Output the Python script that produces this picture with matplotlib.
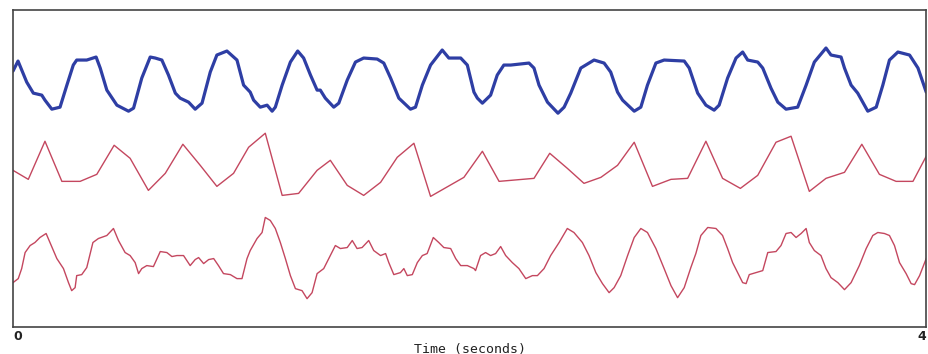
# -*- coding: utf-8 -*-
"""
Three stacked traces over 4 seconds: a noisy periodic signal (blue)
and two derived red traces below it.
"""

import numpy as np
import matplotlib.pyplot as plt

# Top trace (blue)
t_top = [0.000, 0.022, 0.060, 0.089, 0.126, 0.140, 0.170, 0.206, 0.236, 0.264,
         0.279, 0.323, 0.364, 0.382, 0.411, 0.455, 0.506, 0.528, 0.564, 0.601,
         0.623, 0.652, 0.681, 0.711, 0.732, 0.769, 0.798, 0.828, 0.864, 0.893,
         0.937, 0.981, 1.010, 1.039, 1.054, 1.083, 1.113, 1.135, 1.149, 1.179,
         1.215, 1.247, 1.273, 1.303, 1.332, 1.346, 1.368, 1.405, 1.427, 1.464,
         1.500, 1.536, 1.595, 1.624, 1.654, 1.690, 1.741, 1.763, 1.793, 1.829,
         1.880, 1.909, 1.961, 1.990, 2.019, 2.034, 2.056, 2.092, 2.121, 2.150,
         2.180, 2.260, 2.282, 2.304, 2.341, 2.387, 2.414, 2.443, 2.487, 2.545,
         2.589, 2.618, 2.648, 2.670, 2.721, 2.750, 2.779, 2.816, 2.852, 2.940,
         2.962, 2.999, 3.035, 3.071, 3.093, 3.130, 3.167, 3.196, 3.218, 3.262,
         3.284, 3.320, 3.350, 3.386, 3.437, 3.474, 3.510, 3.561, 3.583, 3.627,
         3.642, 3.671, 3.700, 3.722, 3.744, 3.781, 3.810, 3.839, 3.876, 3.927,
         3.964, 4.000]
y_top = [9, 19, -2, -13, -15, -20, -29, -27, -5, 15,
         20, 20, 23, 12, -10, -25, -31, -28, 2, 23,
         22, 20, 5, -13, -18, -22, -29, -23, 8, 25,
         29, 20, -5, -12, -20, -27, -25, -31, -27, -5,
         18, 29, 22, 5, -10, -10, -18, -27, -23, 0,
         18, 22, 21, 17, 2, -18, -29, -27, -5, 15,
         30, 22, 22, 15, -12, -18, -23, -15, 5, 15,
         15, 17, 12, -5, -22, -33, -27, -13, 12, 20,
         17, 8, -12, -20, -31, -27, -5, 17, 20, 19,
         12, -13, -25, -30, -25, 2, 22, 28, 20, 18,
         12, -8, -22, -29, -27, -5, 18, 32, 25, 23,
         12, -5, -13, -22, -31, -27, -5, 20, 28, 25,
         12, -12]

# Middle trace (red, piecewise linear)
t_mid = [0.000, 0.067, 0.140, 0.214, 0.294, 0.367, 0.443, 0.513, 0.593, 0.667,
         0.744, 0.820, 0.893, 0.966, 1.032, 1.105, 1.179, 1.251, 1.332, 1.390,
         1.464, 1.536, 1.610, 1.683, 1.756, 1.829, 1.975, 2.056, 2.129, 2.282,
         2.351, 2.428, 2.501, 2.575, 2.648, 2.721, 2.801, 2.882, 2.955, 3.035,
         3.108, 3.186, 3.262, 3.342, 3.408, 3.488, 3.561, 3.642, 3.718, 3.795,
         3.868, 3.942, 4.000]
y_mid = [-5, -14, 24, -16, -16, -9, 20, 7, -25, -8,
         21, 0, -21, -8, 18, 32, -30, -28, -5, 5,
         -20, -30, -17, 8, 22, -31, -12, 14, -16, -13,
         12, -3, -18, -12, 0, 23, -21, -14, -13, 24,
         -13, -23, -10, 23, 29, -26, -13, -7, 21, -9,
         -16, -16, 9]

# Bottom trace (red)
t_bot = [0.000, 0.023, 0.038, 0.053, 0.075, 0.096, 0.118, 0.145, 0.162, 0.192,
         0.221, 0.243, 0.257, 0.272, 0.279, 0.301, 0.323, 0.350, 0.374, 0.411,
         0.440, 0.462, 0.491, 0.513, 0.535, 0.550, 0.564, 0.586, 0.615, 0.645,
         0.674, 0.696, 0.718, 0.747, 0.776, 0.798, 0.813, 0.835, 0.857, 0.879,
         0.900, 0.922, 0.952, 0.981, 1.003, 1.025, 1.039, 1.069, 1.091, 1.105,
         1.127, 1.149, 1.171, 1.193, 1.215, 1.237, 1.266, 1.288, 1.310, 1.332,
         1.361, 1.390, 1.412, 1.434, 1.464, 1.486, 1.507, 1.529, 1.558, 1.580,
         1.610, 1.632, 1.646, 1.668, 1.697, 1.712, 1.727, 1.749, 1.771, 1.793,
         1.814, 1.841, 1.865, 1.887, 1.917, 1.939, 1.961, 1.990, 2.019, 2.026,
         2.048, 2.070, 2.092, 2.114, 2.136, 2.158, 2.187, 2.216, 2.246, 2.275,
         2.297, 2.326, 2.355, 2.392, 2.428, 2.457, 2.494, 2.523, 2.553, 2.582,
         2.611, 2.633, 2.662, 2.692, 2.721, 2.750, 2.779, 2.816, 2.852, 2.882,
         2.911, 2.940, 2.969, 2.991, 3.013, 3.043, 3.079, 3.108, 3.130, 3.152,
         3.174, 3.196, 3.211, 3.225, 3.254, 3.284, 3.306, 3.342, 3.364, 3.386,
         3.408, 3.430, 3.452, 3.474, 3.488, 3.510, 3.539, 3.561, 3.583, 3.613,
         3.642, 3.671, 3.707, 3.737, 3.766, 3.788, 3.817, 3.839, 3.861, 3.883,
         3.912, 3.934, 3.949, 3.971, 4.000]
y_bot = [-22, -18, -8, 8, 15, 18, 23, 27, 18, 2,
         -8, -22, -30, -27, -15, -14, -7, 18, 22, 25,
         32, 20, 8, 5, -2, -13, -8, -5, -6, 9,
         8, 4, 5, 5, -5, 1, 3, -3, 1, 2,
         -5, -13, -14, -18, -18, 2, 10, 22, 28, 43,
         40, 32, 18, 2, -15, -28, -30, -38, -32, -13,
         -8, 5, 15, 12, 13, 20, 12, 13, 20, 10,
         5, 7, -2, -14, -12, -8, -15, -14, -2, 5,
         7, 23, 18, 13, 12, 2, -5, -5, -8, -10,
         5, 8, 5, 7, 14, 5, -2, -8, -18, -15,
         -15, -8, 5, 18, 32, 28, 18, 5, -12, -23,
         -32, -27, -15, 5, 23, 32, 28, 12, -8, -25,
         -37, -27, -7, 7, 25, 33, 32, 25, 12, -2,
         -12, -22, -23, -14, -12, -10, 8, 9, 15, 27,
         28, 23, 27, 32, 18, 10, 5, -8, -17, -22,
         -29, -22, -5, 12, 25, 28, 27, 25, 15, -2,
         -13, -23, -24, -15, 2]

# vertical placement of each trace
offsets = {"top": 246, "mid": 161, "bot": 66}

blue = "#2e3ea4"
red = "#c4475f"

fig = plt.figure(figsize=(9.29, 3.54), dpi=100)
ax = fig.add_axes([0.014, 0.077, 0.983, 0.895])

ax.plot(t_top, np.array(y_top) + offsets["top"], color=blue, lw=2.3,
        solid_joinstyle="round", solid_capstyle="round")
ax.plot(t_mid, np.array(y_mid) + offsets["mid"], color=red, lw=1.0)
ax.plot(t_bot, np.array(y_bot) + offsets["bot"], color=red, lw=1.0,
        solid_joinstyle="round")

ax.set_xlim(0, 4)
ax.set_ylim(0, 316)
ax.set_yticks([])
ax.set_xticks([0, 4])
ax.set_xticklabels(["0", "4"], fontsize=9, fontweight="bold", color="#222222")
ax.tick_params(axis="x", length=0, pad=2)
for lbl, ha in zip(ax.get_xticklabels(), ["left", "right"]):
    lbl.set_ha(ha)

for s in ax.spines.values():
    s.set_color("#444444")
    s.set_linewidth(1.2)

ax.set_xlabel("Time (seconds)", fontsize=9.5, family="DejaVu Sans Mono",
              color="#222222", labelpad=0)

fig.savefig("out.png", dpi=100)
